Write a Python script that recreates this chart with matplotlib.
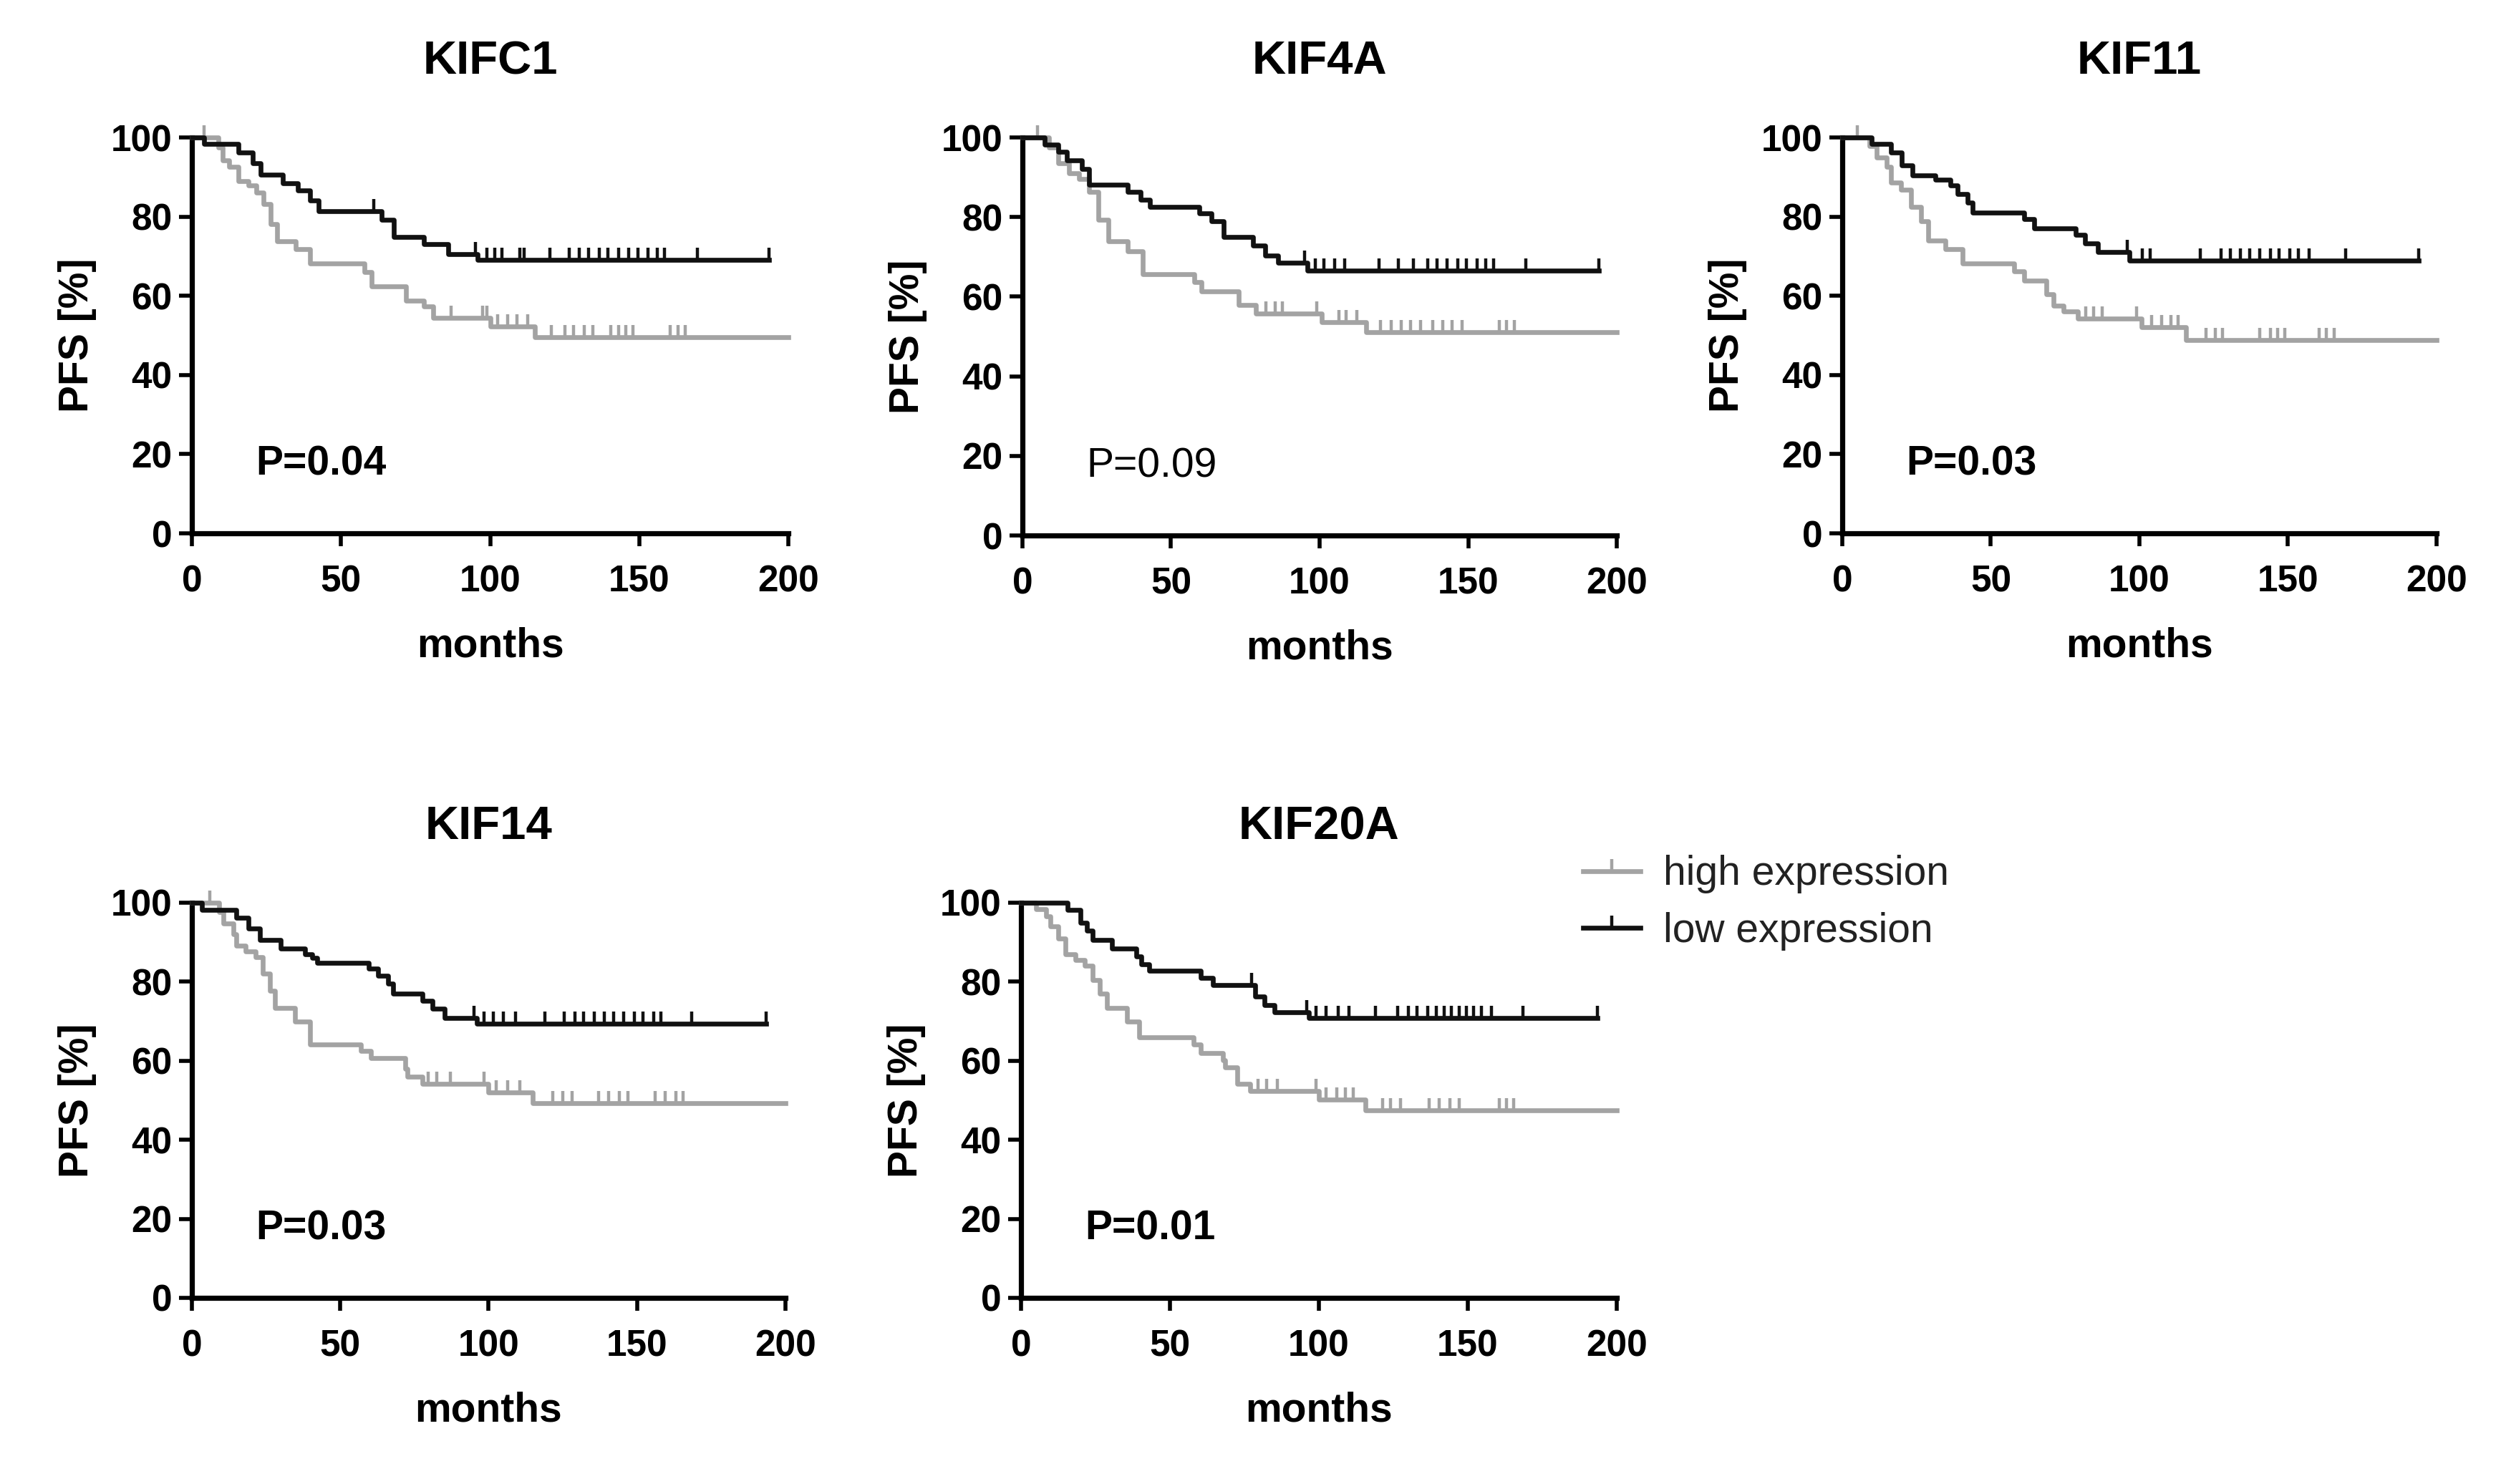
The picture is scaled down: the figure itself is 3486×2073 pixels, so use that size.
import numpy as np
import matplotlib
matplotlib.use('Agg')
import matplotlib.pyplot as plt
from matplotlib.lines import Line2D

plt.rcParams['font.family'] = ['Liberation Sans', 'DejaVu Sans']

# ============= data (months, PFS %) =============
panel_titles = ['KIFC1', 'KIF4A', 'KIF11', 'KIF14', 'KIF20A']
p_labels = ['P=0.04', 'P=0.09', 'P=0.03', 'P=0.03', 'P=0.01']
p_bold = [True, False, True, True, True]

x_ticks = [0, 50, 100, 150, 200]
y_ticks = [0, 20, 40, 60, 80, 100]

# KIFC1
kifc1_low_t = [4, 15.7, 20.5, 23, 30.6, 35.5, 39.7, 42.5, 63.6, 67.8, 77.7, 86, 95.9]
kifc1_low_s = [98.4, 96.2, 93.5, 90.6, 88.5, 86.7, 84, 81.4, 79.2, 74.9, 73.1, 70.6, 69]
kifc1_low_cens = [61, 95, 99, 101.5, 104, 110, 111.5, 120, 126.5, 130, 133, 136.5, 139.5,
                  143, 146.5, 149.5, 153, 156, 158.5, 169.5, 193.5]
kifc1_high_t = [9, 10.4, 12.4, 15.7, 19, 21.5, 24, 26.4, 28.6, 34.7, 39.7, 57.9, 60.3,
                71.9, 77.7, 81, 100, 114.9]
kifc1_high_s = [97.5, 94.3, 92.5, 89, 87.8, 86, 83.2, 78.1, 73.8, 71.7, 68.1, 66, 62.4,
                58.8, 57.3, 54.5, 52.3, 49.5]
kifc1_high_cens = [4, 86.8, 97.5, 99, 102.5, 106, 109, 112.5, 120.5, 125, 128, 131.5, 134.5,
                   140.5, 143, 145.5, 148, 160.5, 163, 165.5]

# KIF4A
kif4a_low_t = [7.4, 12, 14.9, 20, 22.5, 35.5, 39.7, 43, 59.5, 63.6, 67.8, 77.7, 81.8, 86, 95.9]
kif4a_low_s = [98.2, 96.4, 94.3, 92, 88.2, 86.4, 84.3, 82.5, 81, 78.9, 75, 72.9, 70.4, 68.6, 66.5]
kif4a_low_cens = [95, 98.5, 101.5, 105, 108.5, 120, 126.5, 131.5, 136.5, 139.5, 143, 146.5,
                  149.5, 153, 156, 158.5, 169.5, 194]
kif4a_high_t = [9, 12, 15.7, 19, 22.3, 25.6, 28.9, 35.5, 40.5, 57.9, 60.3, 72.7, 78.5, 100.8, 115.7]
kif4a_high_s = [97.5, 93.6, 91, 89.6, 86.4, 79.3, 73.9, 71.4, 65.7, 63.6, 61.4, 57.9, 55.7, 53.6, 51]
kif4a_high_cens = [5, 82, 85, 87.5, 99, 106.5, 109, 112.5, 120.5, 124, 127.5, 130.5, 134,
                   138, 141.5, 144.5, 148, 160.5, 163, 165.5]

# KIF11
kif11_low_t = [9.9, 16.5, 20, 23.5, 31.4, 36.4, 38.8, 42.1, 43.8, 61.2, 64.5, 78.5, 81.8, 86, 96.7]
kif11_low_s = [98.4, 96.2, 93, 90.4, 89.3, 87.9, 85.7, 83.5, 81.1, 79.3, 77.1, 75.4, 73.2, 71.1, 68.9]
kif11_low_cens = [96, 101, 103.5, 120.5, 127.5, 130.5, 134, 137, 140.5, 144, 147, 150.5,
                  153.5, 157, 169.5, 194]
kif11_high_t = [9.1, 11.6, 14.9, 16.5, 19.8, 23.1, 26.4, 28.9, 34.7, 40.5, 57.9, 61.2, 68.6,
                71.1, 74.4, 79.3, 100.8, 115.7]
kif11_high_s = [97.9, 95, 92.5, 88.6, 86.8, 82.5, 78.9, 73.9, 71.8, 68.2, 66.1, 63.9, 60.4,
                57.5, 56.1, 54.3, 52.1, 48.9]
kif11_high_cens = [5, 82, 84.5, 87.5, 99, 104, 107.5, 110.5, 113, 122.5, 125.5, 128, 140.5,
                   144, 146.5, 149, 160.5, 163, 165.5]

# KIF14
kif14_low_t = [3.3, 14.9, 19, 23, 29.8, 38, 40.5, 42.1, 59.5, 62.8, 66.1, 67.8, 77.7, 81, 85.1, 95.9]
kif14_low_s = [98.2, 96.2, 93.5, 90.5, 88.4, 87, 86, 84.8, 83.4, 81.6, 79.5, 77, 75.2, 73.1, 70.9, 69.3]
kif14_low_cens = [95, 98.5, 101.5, 105, 109, 119, 125.5, 129, 132, 135.5, 139, 142, 145.5,
                  149, 152, 155.5, 158, 168.5, 193.5]
kif14_high_t = [9.1, 10.7, 14, 14.9, 18.2, 21.5, 24, 26.4, 28.1, 34.7, 39.7, 57, 60.3, 71.9,
                72.7, 77.7, 100, 114.9]
kif14_high_s = [97.6, 94.8, 92, 89.1, 87.7, 86.2, 82, 77.7, 73.4, 69.9, 64.2, 62.5, 60.6, 58,
                56, 54.2, 52, 49.2]
kif14_high_cens = [6, 79.5, 82.5, 87, 98.5, 102.5, 106.5, 110.5, 121.5, 125, 128, 137, 140.5,
                   144, 147, 156, 159.5, 163, 165.5]

# KIF20A
kif20a_low_t = [15.7, 20, 22, 24, 30.6, 38.8, 40.5, 43, 60.3, 64.5, 78.5, 81.8, 85.1, 96.7]
kif20a_low_s = [98.2, 95, 93, 90.5, 88.4, 86.5, 84.5, 82.7, 80.9, 79.1, 76.3, 74.1, 72.3, 70.8]
kif20a_low_cens = [77.5, 96, 99, 102.5, 106.5, 110, 119, 126.5, 130, 133, 136.5, 139.5, 142,
                   144.5, 147, 149.5, 152, 154.5, 158, 168.5, 193.5]
kif20a_high_t = [5, 8.3, 9.9, 12.4, 14.9, 18.2, 21.5, 24, 26.4, 28.9, 35.5, 39.7, 57.9, 60.3,
                 67.8, 68.6, 72.7, 76.9, 100, 115.7]
kif20a_high_s = [98.4, 96.5, 94.1, 90.9, 87, 85.5, 84.1, 80.5, 77, 73.4, 69.9, 65.9, 64.1, 62,
                 60.2, 58.4, 54.2, 52.4, 50.2, 47.4]
kif20a_high_cens = [79.5, 82.5, 86, 99, 102.5, 106, 109, 111.5, 121.5, 124, 127.5, 137, 140.5,
                    144, 147, 160.5, 163, 165.5]

low_end = [193.5, 194, 194, 193.5, 193.5]
high_end = [200, 200, 200, 200, 200]

low_t = [kifc1_low_t, kif4a_low_t, kif11_low_t, kif14_low_t, kif20a_low_t]
low_s = [kifc1_low_s, kif4a_low_s, kif11_low_s, kif14_low_s, kif20a_low_s]
low_cens = [kifc1_low_cens, kif4a_low_cens, kif11_low_cens, kif14_low_cens, kif20a_low_cens]
high_t = [kifc1_high_t, kif4a_high_t, kif11_high_t, kif14_high_t, kif20a_high_t]
high_s = [kifc1_high_s, kif4a_high_s, kif11_high_s, kif14_high_s, kif20a_high_s]
high_cens = [kifc1_high_cens, kif4a_high_cens, kif11_high_cens, kif14_high_cens, kif20a_high_cens]

GRAY = '#a3a3a3'
BLACK = '#111111'
W, H = 3487, 2073
LW = 4.8
MS = 12

# axes boxes in pixels: left, top, right, bottom
boxes = [(268, 192, 1101, 745), (1428, 192, 2258, 748), (2573, 192, 3403, 745),
         (268, 1261, 1097, 1813), (1426, 1261, 2258, 1813)]


def km_curve(ax, t, s, cens, end, color):
    xs = np.r_[0, t, end]
    ys = np.r_[100, s, s[-1]]
    ax.step(xs, ys, where='post', color=color, lw=LW, clip_on=False, zorder=3)
    # censor ticks sit on the curve
    idx = np.searchsorted(xs, cens, side='right') - 1
    ax.plot(cens, ys[idx], linestyle='none', marker=2, markersize=MS, mew=3.2,
            color=color, clip_on=False, zorder=3)


fig = plt.figure(figsize=(W / 100, H / 100), dpi=100)

for i, (l, t, r, b) in enumerate(boxes):
    ax = fig.add_axes([l / W, 1 - b / H, (r - l) / W, (b - t) / H])
    km_curve(ax, high_t[i], high_s[i], high_cens[i], high_end[i], GRAY)
    km_curve(ax, low_t[i], low_s[i], low_cens[i], low_end[i], BLACK)

    ax.set_xlim(0, 200)
    ax.set_ylim(0, 100)
    ax.set_xticks(x_ticks)
    ax.set_yticks(y_ticks)
    for side in ['top', 'right']:
        ax.spines[side].set_visible(False)
    for side in ['left', 'bottom']:
        ax.spines[side].set_linewidth(5.2)
        ax.spines[side].set_color('black')
    ax.tick_params(axis='both', direction='out', length=13, width=4, labelsize=37)
    ax.tick_params(axis='x', pad=18)
    ax.tick_params(axis='y', pad=7)
    for lab in ax.get_xticklabels() + ax.get_yticklabels():
        lab.set_fontweight('bold')

    ax.set_title(panel_titles[i], fontsize=47, fontweight='bold', pad=64)
    ax.set_xlabel('months', fontsize=41, fontweight='bold', labelpad=28)
    ax.set_ylabel('PFS [%]', fontsize=41, fontweight='bold', labelpad=14)
    ax.text(21.5, 17.4, p_labels[i], fontsize=41, va='center', ha='left',
            fontweight='bold' if p_bold[i] else 'normal')

handles = [Line2D([], [], color=GRAY, lw=LW, marker=2, markersize=MS, mew=3.2),
           Line2D([], [], color=BLACK, lw=LW, marker=2, markersize=MS, mew=3.2)]
fig.legend(handles, ['high expression', 'low expression'], loc='upper left',
           bbox_to_anchor=(2183 / W, 1 - 1166 / H), frameon=False, fontsize=41,
           handlelength=1.4, handletextpad=0.55, labelspacing=0.45, borderpad=0,
           numpoints=1, labelcolor='#222222')

fig.savefig('out.png', dpi=100, facecolor='white')
